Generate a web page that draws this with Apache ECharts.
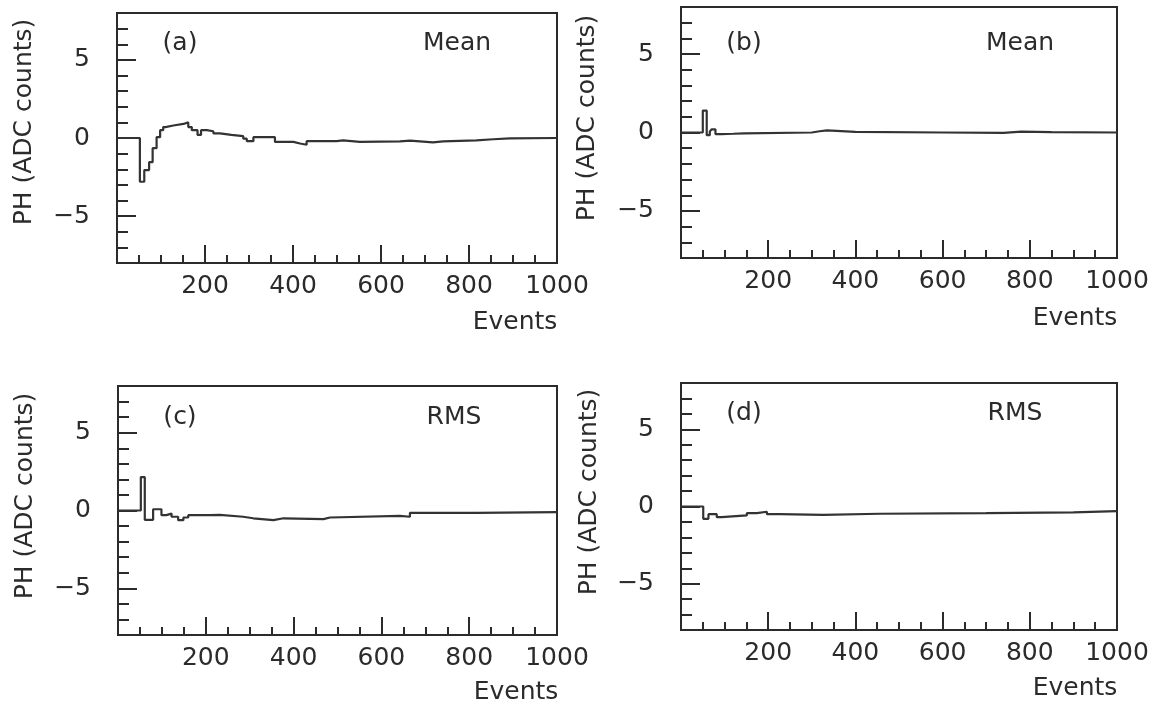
<!DOCTYPE html>
<html>
<head>
<meta charset="utf-8">
<script src="https://cdn.jsdelivr.net/npm/echarts@6/dist/echarts.min.js"></script>
<style>
html,body{margin:0;padding:0;background:#fff;}
#chart{width:1157px;height:704px;}
</style>
</head>
<body>
<div id="chart"></div>
<script>
// ---- Data (step histograms: value holds from its event until the next one) ----
const eventsA = [0, 52, 62, 73, 81, 90, 98, 105, 110, 128, 151, 162, 170, 183, 191, 204, 219, 234, 260, 287, 295, 310, 359, 401, 416, 431, 499, 514, 552, 643, 666, 718, 741, 817, 855, 893, 1000];
const meanA   = [0, -2.8, -2.05, -1.55, -0.65, 0.05, 0.5, 0.7, 0.8, 0.9, 1.0, 0.7, 0.5, 0.2, 0.5, 0.43, 0.3, 0.2, 0.12, -0.04, -0.2, 0.05, -0.25, -0.35, -0.43, -0.2, -0.15, -0.25, -0.22, -0.17, -0.28, -0.22, -0.15, -0.08, -0.03, 0.0, 0.0];

const eventsB = [0, 50, 59, 66, 70, 79, 93, 120, 145, 300, 318, 335, 400, 600, 740, 780, 850, 1000];
const meanB   = [0, 1.4, -0.17, 0.05, 0.2, -0.1, -0.08, -0.05, 0, 0.08, 0.13, 0.04, 0, -0.02, 0.05, 0.02, 0, 0];

const eventsC = [0, 52, 61, 80, 99, 110, 122, 137, 149, 160, 210, 232, 285, 308, 354, 377, 468, 483, 642, 665, 817, 1000];
const rmsC    = [0, 2.15, -0.6, 0.08, -0.3, -0.2, -0.4, -0.62, -0.45, -0.3, -0.28, -0.4, -0.5, -0.62, -0.5, -0.55, -0.45, -0.35, -0.4, -0.15, -0.1, -0.12];

const eventsD = [0, 51, 63, 82, 93, 151, 174, 197, 227, 326, 456, 700, 900, 1000];
const rmsD    = [0, -0.8, -0.5, -0.69, -0.58, -0.43, -0.34, -0.5, -0.54, -0.47, -0.43, -0.38, -0.3, -0.3];

const xTickLabels = [200, 400, 600, 800, 1000];
const yTickLabels = [-5, 0, 5];
const panelTags   = ['(a)', '(b)', '(c)', '(d)'];
const panelKinds  = ['Mean', 'Mean', 'RMS', 'RMS'];
const yTitle = 'PH (ADC counts)';
const xTitle = 'Events';

// ---- Layout ----
const INK = '#2b2b2b';
const FONT = 'DejaVu Sans';
const FS = 25;
const grids = [
  {left: 117, right: 600, top: 13, bottom: 441},
  {left: 681, right: 40,  top: 7,  bottom: 446},
  {left: 118, right: 600, top: 386, bottom: 69},
  {left: 681, right: 40,  top: 383, bottom: 74}
];
const seriesData = [
  eventsA.map((e, i) => [e, meanA[i]]),
  eventsB.map((e, i) => [e, meanB[i]]),
  eventsC.map((e, i) => [e, rmsC[i]]),
  eventsD.map((e, i) => [e, rmsD[i]])
];
const tagPos   = [[180, 43], [744, 43], [180, 417], [744, 413]];
const kindPos  = [[457, 43], [1020, 43], [454, 417], [1015, 413]];
const yNamePos = [[24, 122], [587, 118], [25, 496], [589, 492]];
const xNamePos = [[515, 322], [1075, 318], [516, 692], [1075, 688]];

const fmtY = v => (v < 0 ? '\u2212' + Math.abs(v) : String(v));
const fontStr = FS + 'px "' + FONT + '"';

const option = {
  backgroundColor: '#fff',
  animation: false,
  grid: grids.map(g => Object.assign({show: true, borderColor: INK, borderWidth: 2, backgroundColor: 'transparent'}, g)),
  xAxis: grids.map((g, i) => ({
    type: 'value', gridIndex: i, min: 0, max: 1000, interval: 200,
    axisLine: {show: true, onZero: false, lineStyle: {color: INK, width: 2}},
    axisTick: {show: true, inside: true, length: 18, lineStyle: {color: INK, width: 2}},
    minorTick: {show: true, splitNumber: 4, length: 8, lineStyle: {color: INK, width: 2}},
    splitLine: {show: false},
    axisLabel: {
      show: true, margin: 11, color: INK, fontFamily: FONT, fontSize: FS,
      customValues: xTickLabels,
      formatter: v => String(v)
    }
  })),
  yAxis: [].concat(...grids.map((g, i) => [
    {
      type: 'value', gridIndex: i, min: -8, max: 8, interval: 1,
      axisLine: {show: true, onZero: false, lineStyle: {color: INK, width: 2}},
      axisTick: {show: true, inside: true, length: 19, customValues: yTickLabels, lineStyle: {color: INK, width: 2}},
      splitLine: {show: false},
      axisLabel: {show: true, margin: 27, color: INK, fontFamily: FONT, fontSize: FS, customValues: yTickLabels, formatter: fmtY}
    },
    {
      type: 'value', gridIndex: i, min: -8, max: 8, interval: 1, position: 'left',
      axisLine: {show: false, onZero: false},
      axisTick: {show: true, inside: true, length: 11, lineStyle: {color: INK, width: 2}},
      splitLine: {show: false},
      axisLabel: {show: false}
    }
  ])),
  series: seriesData.map((d, i) => ({
    type: 'line', xAxisIndex: i, yAxisIndex: i * 2, step: 'end',
    data: d, showSymbol: false, symbol: 'none',
    lineStyle: {color: '#333', width: 2.2}
  })),
  graphic: [].concat(
    panelTags.map((t, i) => ({type: 'text', x: tagPos[i][0], y: tagPos[i][1],
      style: {text: t, font: fontStr, fill: INK, align: 'center', verticalAlign: 'middle'}})),
    panelKinds.map((t, i) => ({type: 'text', x: kindPos[i][0], y: kindPos[i][1],
      style: {text: t, font: fontStr, fill: INK, align: 'center', verticalAlign: 'middle'}})),
    yNamePos.map(p => ({type: 'text', x: p[0], y: p[1], rotation: Math.PI / 2,
      style: {text: yTitle, font: fontStr, fill: INK, align: 'center', verticalAlign: 'middle'}})),
    xNamePos.map(p => ({type: 'text', x: p[0], y: p[1],
      style: {text: xTitle, font: fontStr, fill: INK, align: 'center', verticalAlign: 'middle'}}))
  )
};

const chart = echarts.init(document.getElementById('chart'), null, {renderer: 'canvas'});
chart.setOption(option);
</script>
</body>
</html>
